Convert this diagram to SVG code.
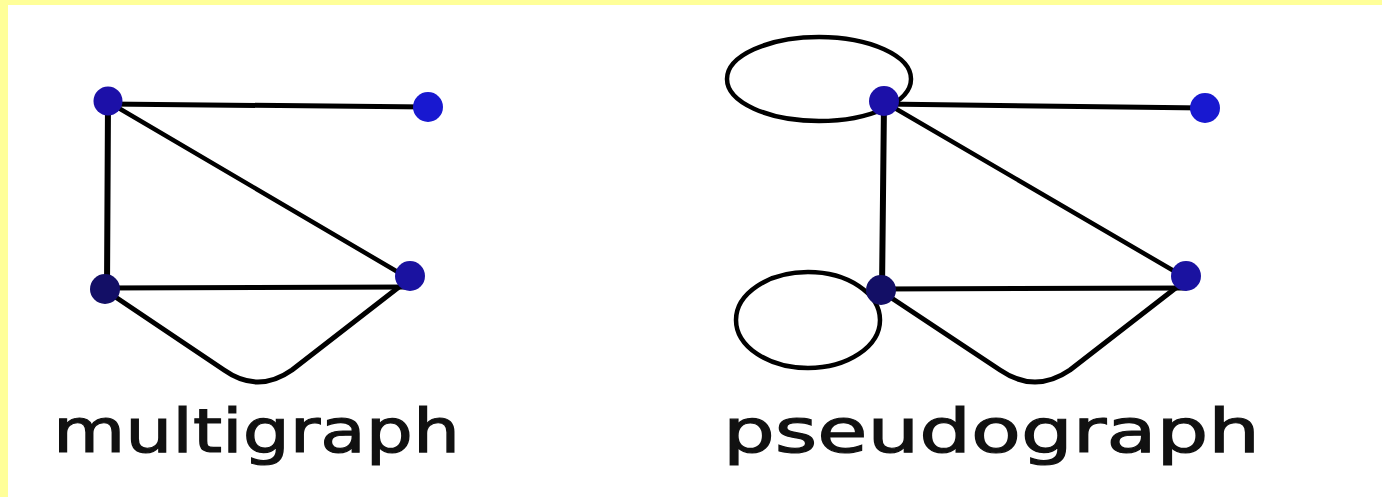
<svg xmlns="http://www.w3.org/2000/svg" width="1382" height="497" viewBox="0 0 1382 497">
<style>
.e{fill:none;stroke:#000;stroke-linecap:round;stroke-linejoin:round}
.t{stroke-width:6}
.m{stroke-width:5}
.d{stroke-width:4.5}
.lbl{font-family:"DejaVu Sans","Liberation Sans",sans-serif;font-size:60px;fill:#111;stroke:#111;stroke-width:1.2}
.n1{fill:#1c10a8}
.n2{fill:#1818d0}
.n3{fill:#130f66}
.n4{fill:#1a12a0}
</style>
<rect x="0" y="0" width="1382" height="497" fill="#ffffff"/>
<rect x="0" y="0" width="1382" height="5" fill="#ffff99"/>
<rect x="0" y="0" width="8" height="497" fill="#ffff99"/>
<g id="connectors">
<line class="e m" x1="108" y1="104" x2="428" y2="107"/>
<line class="e t" x1="108" y1="102" x2="107" y2="289"/>
<line class="e d" x1="110" y1="103" x2="408" y2="278"/>
<line class="e m" x1="105" y1="288" x2="408" y2="287"/>
<path class="e m" d="M108,292 L224,370 Q258,394 292,370 L408,280"/>
<ellipse class="e d" cx="819" cy="79" rx="92" ry="42"/>
<ellipse class="e d" cx="808" cy="320" rx="72" ry="48"/>
<line class="e m" x1="884" y1="104" x2="1205" y2="108"/>
<line class="e t" x1="884" y1="102" x2="882" y2="290"/>
<line class="e d" x1="886" y1="103" x2="1186" y2="278"/>
<line class="e m" x1="881" y1="289" x2="1186" y2="288"/>
<path class="e m" d="M884,293 L1000,370 Q1035,394 1070,370 L1186,280"/>
</g>
<g id="multigraph-tl"><circle class="n1" cx="108" cy="101" r="14.5"/></g>
<g id="multigraph-tr"><circle class="n2" cx="428" cy="107" r="15"/></g>
<g id="multigraph-bl"><circle class="n3" cx="105" cy="289" r="15"/></g>
<g id="multigraph-br"><circle class="n4" cx="410" cy="276" r="15"/></g>
<g id="pseudograph-tl"><circle class="n1" cx="884" cy="101" r="15"/></g>
<g id="pseudograph-tr"><circle class="n2" cx="1205" cy="108" r="15"/></g>
<g id="pseudograph-bl"><circle class="n3" cx="881" cy="290" r="15"/></g>
<g id="pseudograph-br"><circle class="n4" cx="1186" cy="276" r="15"/></g>
<g id="label-multigraph"><text class="lbl" x="53" y="452" textLength="407" lengthAdjust="spacingAndGlyphs">multigraph</text></g>
<g id="label-pseudograph"><text class="lbl" x="723" y="452" textLength="537" lengthAdjust="spacingAndGlyphs">pseudograph</text></g>
</svg>
